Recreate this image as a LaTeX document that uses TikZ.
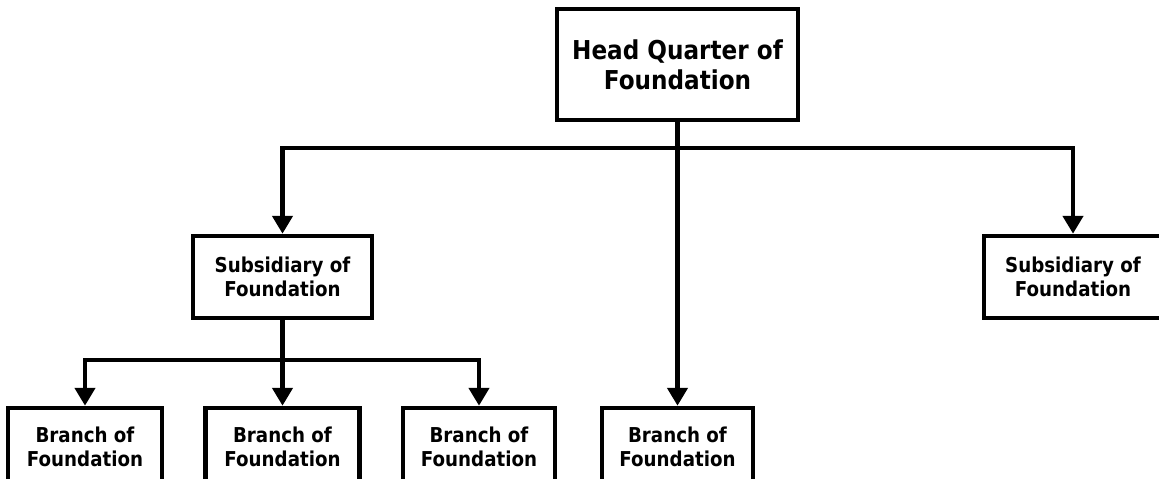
\documentclass[tikz,border=0pt]{standalone}
\usepackage{fontspec}
\setmainfont{DejaVu Sans}[FakeStretch=0.89]
\usetikzlibrary{arrows.meta}
\tikzset{
  box/.style={draw=black, line width=4.5pt, fill=white, inner sep=0pt, align=center,
              font=\bfseries\fontsize{20.5}{24.5}\selectfont},
  hqbox/.style={box, font=\bfseries\fontsize{26}{30}\selectfont},
  link/.style={line width=4.5pt, line join=miter},
  arr/.style={link, -{Triangle[width=20pt,length=18pt]}}
}
\begin{document}
\begin{tikzpicture}[x=1pt, y=-1pt]
  \clip (0,0) rectangle (1159,479);
  \fill[white] (0,0) rectangle (1159,479);

  % organisation boxes
  \node[hqbox, minimum width=241pt, minimum height=111pt] (hq) at (677.5,64.5)
    {Head Quarter of\\Foundation};
  \node[box, minimum width=179pt, minimum height=82pt] (s1) at (282.5,277)
    {Subsidiary of\\Foundation};
  \node[box, minimum width=178pt, minimum height=82pt] (s2) at (1073,277)
    {Subsidiary of\\Foundation};
  \node[box, minimum width=154pt, minimum height=78pt] (b1) at (85,447)
    {Branch of\\Foundation};
  \node[box, minimum width=154pt, minimum height=78pt] (b2) at (282.5,447)
    {Branch of\\Foundation};
  \node[box, minimum width=152pt, minimum height=78pt] (b3) at (479,447)
    {Branch of\\Foundation};
  \node[box, minimum width=151pt, minimum height=78pt] (b4) at (677.5,447)
    {Branch of\\Foundation};

  % bus lines
  \coordinate (bus) at (677.5,148);
  \coordinate (sbus) at (282.5,360);

  % connectors
  \draw[arr] (hq.south) -- (b4.north);
  \draw[arr] (hq.south |- bus) -| (s1.north);
  \draw[arr] (hq.south |- bus) -| (s2.north);
  \draw[arr] (s1.south) -- (b2.north);
  \draw[arr] (s1.south |- sbus) -| (b1.north);
  \draw[arr] (s1.south |- sbus) -| (b3.north);
\end{tikzpicture}
\end{document}
